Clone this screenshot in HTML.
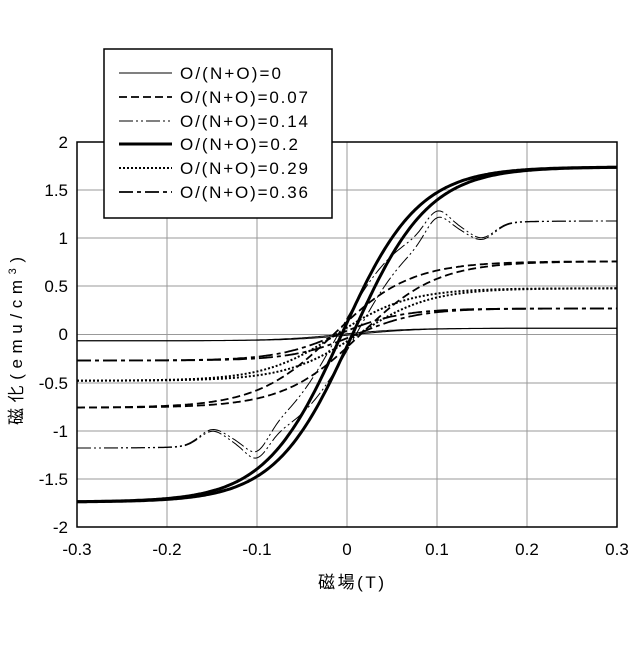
<!DOCTYPE html>
<html><head><meta charset="utf-8"><style>
body{margin:0;background:#fff;width:640px;height:640px;overflow:hidden}
text{font-family:"Liberation Sans","Noto Sans CJK JP",sans-serif;font-size:17px;fill:#000}
</style></head><body>
<svg id="s" width="640" height="640" xmlns="http://www.w3.org/2000/svg">
<g stroke="#999" stroke-width="1">
<line x1="167" y1="142" x2="167" y2="527"/><line x1="257" y1="142" x2="257" y2="527"/>
<line x1="347" y1="142" x2="347" y2="527"/><line x1="437" y1="142" x2="437" y2="527"/>
<line x1="527" y1="142" x2="527" y2="527"/>
<line x1="77" y1="190" x2="617" y2="190"/><line x1="77" y1="238" x2="617" y2="238"/>
<line x1="77" y1="286" x2="617" y2="286"/><line x1="77" y1="334.5" x2="617" y2="334.5"/>
<line x1="77" y1="383" x2="617" y2="383"/><line x1="77" y1="431" x2="617" y2="431"/>
<line x1="77" y1="479" x2="617" y2="479"/>
</g>
<g id="curves" fill="none" stroke="#000"></g>
<rect x="77" y="142" width="540" height="385" fill="none" stroke="#000" stroke-width="1.5"/>
<g text-anchor="end">
<text x="68" y="148">2</text><text x="68" y="196">1.5</text><text x="68" y="244">1</text>
<text x="68" y="292">0.5</text><text x="68" y="340">0</text><text x="68" y="389">-0.5</text>
<text x="68" y="437">-1</text><text x="68" y="485">-1.5</text><text x="68" y="533">-2</text>
</g>
<g text-anchor="middle">
<text x="77" y="555">-0.3</text><text x="167" y="555">-0.2</text><text x="257" y="555">-0.1</text>
<text x="347" y="555">0</text><text x="437" y="555">0.1</text><text x="527" y="555">0.2</text>
<text x="617" y="555">0.3</text>
</g>
<text x="318" y="588" font-size="16" textLength="66" lengthAdjust="spacing">磁場(T)</text>
<text transform="translate(22,425) rotate(-90)" font-size="16" textLength="168" lengthAdjust="spacing">磁化(emu/cm<tspan font-size="11" dy="-6">3</tspan><tspan dy="6">)</tspan></text>
<rect x="104" y="49" width="228" height="169" fill="#fff" stroke="#000" stroke-width="1.5"/>
<g stroke="#000" fill="none">
<line x1="119" y1="73" x2="172" y2="73" stroke-width="1"/>
<line x1="119" y1="97" x2="172" y2="97" stroke-width="1.8" stroke-dasharray="8,4"/>
<line x1="119" y1="121" x2="172" y2="121" stroke-width="1" stroke-dasharray="14,3,2,3,2,3"/>
<line x1="119" y1="144" x2="172" y2="144" stroke-width="3"/>
<line x1="119" y1="168" x2="172" y2="168" stroke-width="2" stroke-dasharray="2,2"/>
<line x1="119" y1="192" x2="172" y2="192" stroke-width="1.8" stroke-dasharray="14,4,4,4"/>
</g>
<text x="180" y="79" textLength="101" lengthAdjust="spacing">O/(N+O)=0</text>
<text x="180" y="103" textLength="128" lengthAdjust="spacing">O/(N+O)=0.07</text>
<text x="180" y="127" textLength="128" lengthAdjust="spacing">O/(N+O)=0.14</text>
<text x="180" y="150" textLength="118" lengthAdjust="spacing">O/(N+O)=0.2</text>
<text x="180" y="174" textLength="128" lengthAdjust="spacing">O/(N+O)=0.29</text>
<text x="180" y="198" textLength="128" lengthAdjust="spacing">O/(N+O)=0.36</text>
</svg>
<script>
var g=document.getElementById('curves');
function X(x){return 347+x*900}function Y(m){return 334.5-m*96.25}
var S=[
{ms:0.065,hc:0.008,w:0.07,sw:1,da:"",b:0},
{ms:0.76,hc:0.015,w:0.085,sw:1.8,da:"8,4",b:0},
{ms:1.18,hc:0.01,w:0.07,sw:1,da:"14,3,2,3,2,3",b:0.2},
{ms:1.74,hc:0.006,w:0.085,sw:3,da:"",b:0},
{ms:0.48,hc:0.012,w:0.08,sw:2,da:"2,2",b:0},
{ms:0.27,hc:0.01,w:0.07,sw:1.8,da:"14,4,4,4",b:0}];
S.forEach(function(s){
 [1,-1].forEach(function(br){
  var d="";
  for(var i=0;i<=300;i++){var x=-0.3+i*0.002;
   var m=s.ms*Math.tanh((x+br*s.hc)/s.w);
   if(s.b){m+=s.b*(Math.exp(-Math.pow((x-0.1)/0.018,2))-Math.exp(-Math.pow((x+0.1)/0.018,2)))
     -0.15*(Math.exp(-Math.pow((x-0.15)/0.02,2))-Math.exp(-Math.pow((x+0.15)/0.02,2)));}
   d+=(i?"L":"M")+X(x).toFixed(1)+","+Y(m).toFixed(1);}
  var p=document.createElementNS("http://www.w3.org/2000/svg","path");
  p.setAttribute("d",d);p.setAttribute("stroke-width",s.sw);
  if(s.da)p.setAttribute("stroke-dasharray",s.da);g.appendChild(p);
 });
});
</script>
</body></html>
